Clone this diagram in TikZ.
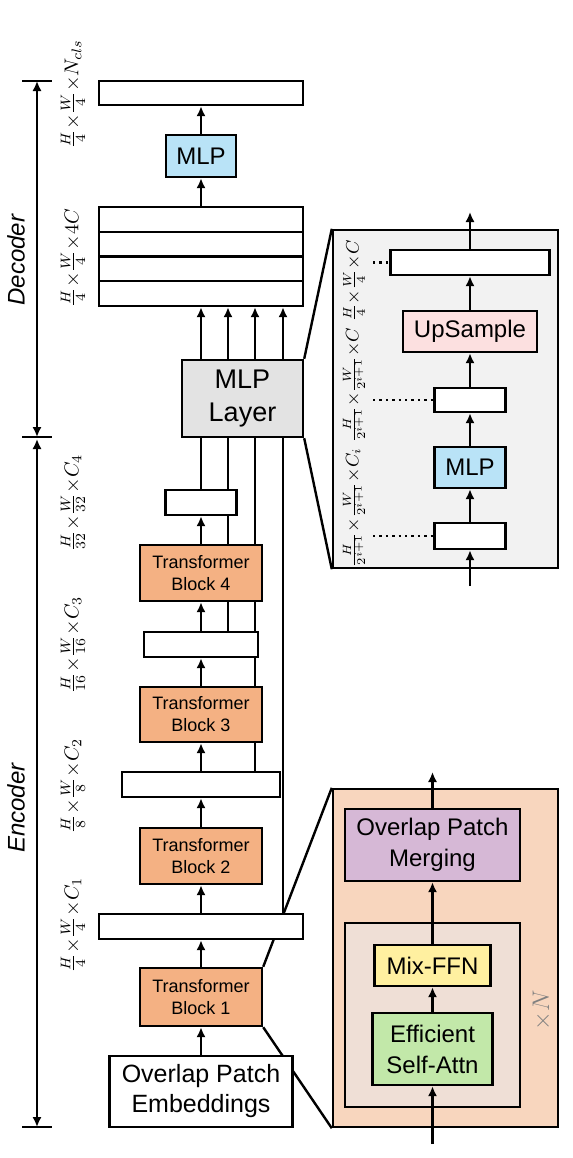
\documentclass[tikz,border=0pt]{standalone}
\usepackage{amsmath}
\usepackage{fontspec}
\setmainfont{Liberation Sans}
\usetikzlibrary{positioning,arrows.meta,backgrounds}

\definecolor{tfOrange}{HTML}{F4B183}
\definecolor{mlpBlue}{HTML}{B9E3F7}
\definecolor{layerGray}{HTML}{E3E3E3}
\definecolor{zoomGray}{HTML}{F2F2F2}
\definecolor{upPink}{HTML}{FCE0E0}
\definecolor{zoomPeach}{HTML}{F8D6BE}
\definecolor{repBeige}{HTML}{EFDFD6}
\definecolor{mergePurple}{HTML}{D6B8D6}
\definecolor{ffnYellow}{HTML}{FFF0A0}
\definecolor{attnGreen}{HTML}{C2E8A9}

\tikzset{
	blk/.style={draw, line width=1.2pt, inner sep=0pt, align=center},
	bar/.style={blk, fill=white},
	arr/.style={line width=1.2pt, -{Latex[length=5pt,width=4.6pt]}},
	lin/.style={line width=1.2pt},
	dimlab/.style={rotate=90, inner sep=0pt, font=\fontsize{10}{12}\selectfont},
	tfblock/.style={blk, fill=tfOrange, minimum width=61pt, font=\fontsize{9}{11}\selectfont},
	bigtxt/.style={font=\fontsize{12}{15.5}\selectfont},
}

\begin{document}
\begin{tikzpicture}[x=0.5pt, y=-0.5pt]
		% page frame, same size as the reference
		\useasboundingbox (0,0) rectangle (573,1158);
		% decoder column
		\node[bar, minimum width=102pt, minimum height=12pt] (out) at (201,93) {};
		\node[blk, bigtxt, fill=mlpBlue, minimum width=35pt, minimum height=21pt] (mlp) at (201,156) {MLP};
		\foreach \i in {1,...,4} {
				\node[bar, minimum width=102pt, minimum height=12.375pt] (s\i) at (201,{219.4+(\i-1)*24.75}) {};
			}
		\node[blk, fill=layerGray, minimum width=60.5pt, minimum height=38.5pt, font=\fontsize{13.5}{16.5}\selectfont] (mlplayer) at (242.5,398.5) {MLP\\Layer};
		% encoder column
		\node[bar, minimum width=35.5pt, minimum height=12.5pt] (c4) at (201,502.5) {};
		\node[tfblock, minimum height=28pt] (tb4) at (201,573) {Transformer\\Block 4};
		\node[bar, minimum width=57pt, minimum height=12.5pt] (c3) at (201,644.5) {};
		\node[tfblock, minimum height=27.5pt] (tb3) at (201,714.5) {Transformer\\Block 3};
		\node[bar, minimum width=79pt, minimum height=12.5pt] (c2) at (201,784.5) {};
		\node[tfblock, minimum height=28pt] (tb2) at (201,856) {Transformer\\Block 2};
		\node[bar, minimum width=102pt, minimum height=12.5pt] (c1) at (201,926.5) {};
		\node[tfblock, minimum height=29pt] (tb1) at (201,997) {Transformer\\Block 1};
		\node[bar, minimum width=91.5pt, minimum height=35.5pt, font=\fontsize{12.5}{15}\selectfont] (ope) at (201,1091.5) {Overlap Patch\\Embeddings};
		% main arrows
		\foreach \a/\b in {ope/tb1, tb1/c1, c1/tb2, tb2/c2, c2/tb3, tb3/c3, c3/tb4, tb4/c4, s1/mlp, mlp/out} {
				\draw[arr] (\a.north) -- (\b.south);
			}
		% side taps into the MLP layer
		\coordinate (t1) at (201,0);
		\coordinate (t2) at (228,0);
		\coordinate (t3) at (255,0);
		\coordinate (t4) at (283,0);
		\begin{pgfonlayer}{background}
			\foreach \i/\c in {1/c4, 2/c3, 3/c2, 4/c1} {
					\draw[lin] (\c.north -| t\i) -- (mlplayer.south -| t\i);
				}
		\end{pgfonlayer}
		\foreach \i in {1,...,4} {
				\draw[arr] (mlplayer.north -| t\i) -- (s4.south -| t\i);
			}
		% scale bars on the left
		\coordinate (dtop) at (37,81);
		\coordinate (dmid) at (37,437);
		\coordinate (etop) at (37,439);
		\coordinate (ebot) at (37,1127);
		\draw[lin, {Latex[length=5pt,width=4.6pt]}-{Latex[length=5pt,width=4.6pt]}] (dtop) -- (dmid);
		\draw[lin, {Latex[length=5pt,width=4.6pt]}-{Latex[length=5pt,width=4.6pt]}] (etop) -- (ebot);
		\foreach \c in {dtop, dmid, ebot} {
				\draw[lin] ([xshift=-7.5pt]\c) -- ([xshift=7.5pt]\c);
			}
		\node[rotate=90, font=\fontsize{12}{14}\selectfont\itshape] (declab) at (16,260) {Decoder};
		\node[rotate=90, font=\fontsize{12}{14}\selectfont\itshape] (enclab) at (16,808) {Encoder};
		% size labels
		\node[dimlab] (ln) at (73,94) {$\frac{H}{4}{\times}\frac{W}{4}{\times}N_{cls}$};
		\node[dimlab] (l4c) at (73,258) {$\frac{H}{4}{\times}\frac{W}{4}{\times}4C$};
		\node[dimlab] (lc4) at (73,503) {$\frac{H}{32}{\times}\frac{W}{32}{\times}C_4$};
		\node[dimlab] (lc3) at (73,645) {$\frac{H}{16}{\times}\frac{W}{16}{\times}C_3$};
		\node[dimlab] (lc2) at (73,786) {$\frac{H}{8}{\times}\frac{W}{8}{\times}C_2$};
		\node[dimlab] (lc1) at (73,925) {$\frac{H}{4}{\times}\frac{W}{4}{\times}C_1$};
		% zoom of the MLP layer
		\node[blk, fill=zoomGray, minimum width=112.5pt, minimum height=169pt] (mlpzoom) at (445.5,399) {};
		\node[bar, minimum width=79.5pt, minimum height=12.5pt] (iout) at (470,262.5) {};
		\node[blk, bigtxt, fill=upPink, minimum width=67pt, minimum height=20.5pt] (up) at (470,331.5) {UpSample};
		\node[bar, minimum width=35.5pt, minimum height=12pt] (imid) at (470,400) {};
		\node[blk, bigtxt, fill=mlpBlue, minimum width=35.5pt, minimum height=20.5pt] (imlp) at (470,467.5) {MLP};
		\node[bar, minimum width=35.5pt, minimum height=13pt] (iin) at (470,536) {};
		\coordinate (iin0) at (470,586);
		\coordinate (iout1) at (470,212);
		\foreach \a/\b in {iin/imlp, imlp/imid, imid/up, up/iout} {
				\draw[arr] (\a.north) -- (\b.south);
			}
		\draw[arr] (iin0) -- (iin.south);
		\draw[arr] (iout.north) -- (iout1);
		\foreach \b in {iout, imid, iin} {
				\coordinate (dot\b) at (373,0);
				\draw[lin, dotted] (dot\b |- \b.west) -- (\b.west);
			}
		\node[dimlab, font=\fontsize{9}{11}\selectfont] (li1) at (354,281) {$\frac{H}{4}{\times}\frac{W}{4}{\times}C$};
		\node[dimlab, font=\fontsize{9}{11}\selectfont] (li2) at (354,385) {$\frac{H}{2^{i+1}}{\times}\frac{W}{2^{i+1}}{\times}C$};
		\node[dimlab, font=\fontsize{9}{11}\selectfont] (li3) at (354,508) {$\frac{H}{2^{i+1}}{\times}\frac{W}{2^{i+1}}{\times}C_i$};
		% zoom of a transformer block
		\node[blk, fill=zoomPeach, minimum width=112.5pt, minimum height=169pt] (tbzoom) at (445.5,958) {};
		\node[blk, bigtxt, fill=mergePurple, minimum width=87.5pt, minimum height=36pt] (opm) at (432.5,845) {Overlap Patch\\Merging};
		\node[blk, fill=repBeige, minimum width=87.5pt, minimum height=92pt] (rep) at (432.5,1015) {};
		\node[blk, bigtxt, fill=ffnYellow, minimum width=58pt, minimum height=20.5pt] (ffn) at (432.5,965.5) {Mix-FFN};
		\node[blk, bigtxt, fill=attnGreen, minimum width=60pt, minimum height=36pt] (esa) at (432.5,1049) {Efficient\\Self-Attn};
		\node[rotate=90, text=gray, font=\fontsize{12}{14}\selectfont] (xn) at (542,1010) {$\times N$};
		\coordinate (ein) at (432.5,1144);
		\coordinate (eout) at (432.5,772);
		\draw[arr] (ein) -- (esa.south);
		\draw[arr] (esa.north) -- (ffn.south);
		\draw[arr] (ffn.north) -- (opm.south);
		\draw[arr] (opm.north) -- (eout);
		% zoom lines
		\begin{pgfonlayer}{background}
			\draw[lin] (mlplayer.north east) -- (mlpzoom.north west);
			\draw[lin] (mlplayer.south east) -- (mlpzoom.south west);
			\draw[lin] (tb1.north east) -- (tbzoom.north west);
			\draw[lin] (tb1.south east) -- (tbzoom.south west);
		\end{pgfonlayer}
	\end{tikzpicture}
\end{document}
